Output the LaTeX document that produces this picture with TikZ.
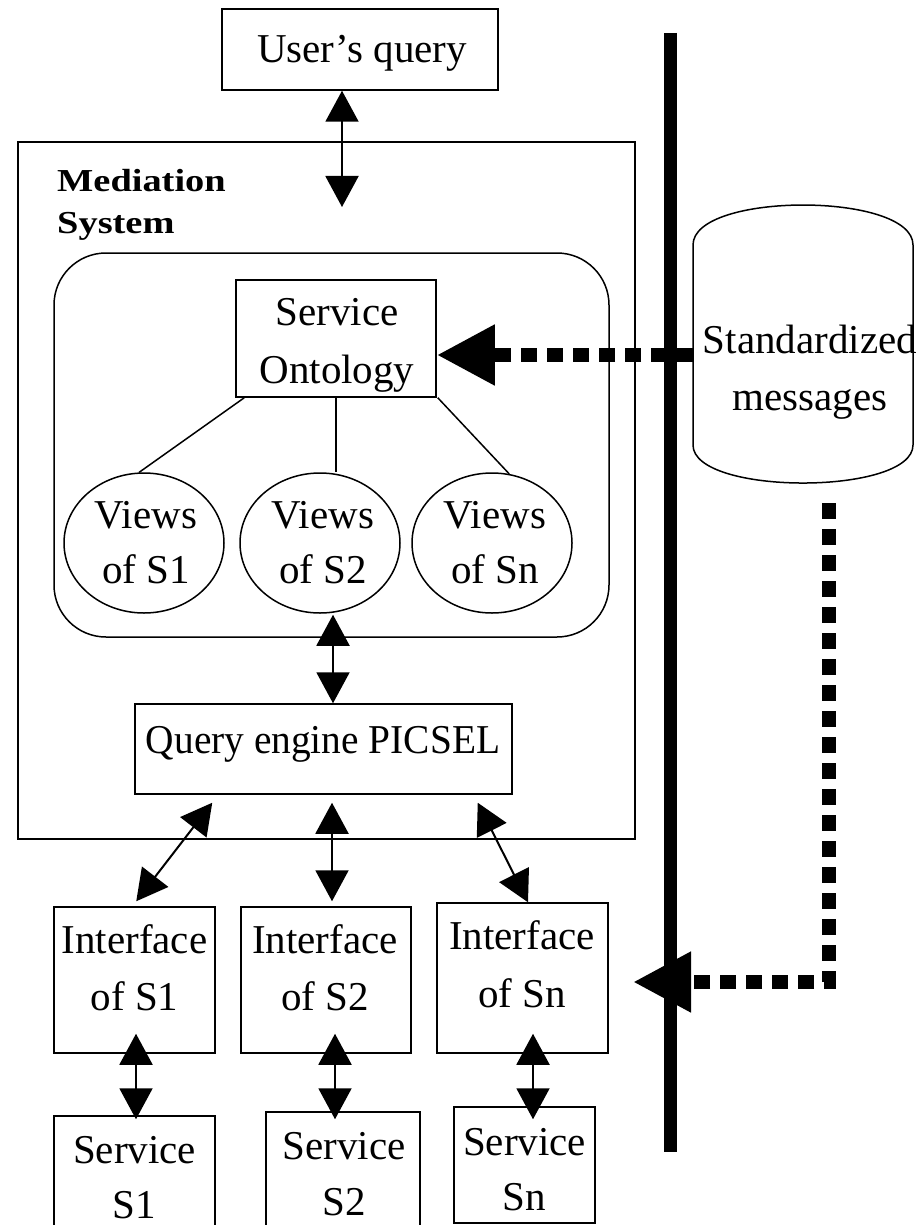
\documentclass[tikz,border=0pt]{standalone}
\usepackage{fontspec}
\setmainfont{Liberation Serif}
\usetikzlibrary{arrows.meta,calc,shapes.geometric}

\begin{document}
\begin{tikzpicture}[x=1pt,y=-1pt,
  box/.style={draw, line width=1.5pt, rectangle, inner sep=0pt},
  roundbox/.style={draw, line width=1.5pt, rectangle, rounded corners=52pt, inner sep=0pt},
  viewnode/.style={draw, line width=1.5pt, ellipse, inner sep=0pt,
    minimum width=160pt, minimum height=140pt},
  lbl/.style={anchor=base, inner sep=0pt, font=\fontsize{41}{57}\selectfont},
  headlbl/.style={anchor=base west, inner sep=0pt, font=\fontsize{32}{41}\selectfont\bfseries},
  tie/.style={line width=1.5pt},
  dbl/.style={line width=2pt,
    {Triangle[length=31pt,width=33pt]}-{Triangle[length=31pt,width=33pt]}},
  feed/.style={line width=14pt, dash pattern=on 16pt off 10pt, line join=miter,
    -{Triangle[length=58pt,width=57pt]}},
  bus/.style={line width=13pt}]

\clip (0,0) rectangle (923,1225);

% user query and mediation frame
\node[box, minimum width=276pt, minimum height=81pt] (uq) at (360,49.5) {};
\node[lbl] (uqt) at (362,63) {User’s query};
\node[box, minimum width=617pt, minimum height=697pt] (med) at (326.5,490.5) {};
\node[headlbl] (medt1) at (57,192) {\scalebox{1.2}[1]{Mediation}};
\node[headlbl] (medt2) at (57,233) {\scalebox{1.2}[1]{System}};

% ontology block with the service views
\node[roundbox, minimum width=555pt, minimum height=384pt] (onto) at (331.5,445) {};
\node[box, minimum width=200pt, minimum height=117pt] (so) at (336,338.5) {};
\node[lbl] (sot1) at (337,325) {Service};
\node[lbl] (sot2) at (337,383) {Ontology};

\node[viewnode] (v1) at (144,543) {};
\node[viewnode] (v2) at (320,543) {};
\node[viewnode] (v3) at (492,543) {};
\node[lbl] (v1t1) at (146,528) {Views};
\node[lbl] (v1t2) at (146,583) {of S1};
\node[lbl] (v2t1) at (323,528) {Views};
\node[lbl] (v2t2) at (323,583) {of S2};
\node[lbl] (v3t1) at (495,528) {Views};
\node[lbl] (v3t2) at (495,583) {of Sn};

\draw[tie] ($(so.south west)+(9,0)$) -- (v1.94);
\draw[tie] (so.south) -- (so.south |- v2.north);
\draw[tie] ($(so.south east)+(1,0)$) -- (v3.76);

% query engine
\node[box, minimum width=377pt, minimum height=90pt] (qe) at (323.5,749) {};
\node[lbl] (qet) at (323,753) {\scalebox{0.96}[1]{Query engine PICSEL}};

% interfaces
\node[box, minimum width=161pt, minimum height=146pt] (i1) at (134.5,980) {};
\node[box, minimum width=170pt, minimum height=146pt] (i2) at (326,980) {};
\node[box, minimum width=171pt, minimum height=150pt] (i3) at (522.5,978) {};
\node[lbl] (i1t1) at (134.5,953) {Interface};
\node[lbl] (i1t2) at (134.5,1010) {of S1};
\node[lbl] (i2t1) at (325,953) {Interface};
\node[lbl] (i2t2) at (325,1010) {of S2};
\node[lbl] (i3t1) at (522,949) {Interface};
\node[lbl] (i3t2) at (522,1007) {of Sn};

% services
\node[box, minimum width=161pt, minimum height=124pt] (s1) at (134.5,1178) {};
\node[box, minimum width=154pt, minimum height=128pt] (s2) at (343,1176) {};
\node[box, minimum width=141pt, minimum height=116pt] (sn) at (524.5,1165) {};
\node[lbl] (s1t1) at (134.5,1163) {Service};
\node[lbl] (s1t2) at (134.5,1218) {S1};
\node[lbl] (s2t1) at (344,1159) {Service};
\node[lbl] (s2t2) at (344,1215) {S2};
\node[lbl] (snt1) at (524.5,1155) {Service};
\node[lbl] (snt2) at (524.5,1210) {Sn};

% two-way exchanges
\coordinate (uqend) at (342,207);
\draw[dbl] (uq.south -| uqend) -- (uqend);
\draw[dbl] ($(v2.south)+(13,1)$) -- ($(qe.north)+(9.5,0)$);
\draw[dbl] ($(qe.south west)+(78,8)$) -- ($(i1.north west)+(83,-5)$);
\draw[dbl] ($(qe.south)+(8.5,8)$) -- ($(i2.north)+(6,-5)$);
\draw[dbl] ($(qe.south east)+(-35,8)$) -- ($(i3.north)+(5.5,0)$);
\draw[dbl] ($(i1.south)+(1.5,-20)$) -- ($(s1.north)+(1.5,4)$);
\draw[dbl] ($(i2.south)+(9,-20)$) -- ($(s2.north)+(-8,8)$);
\draw[dbl] ($(i3.south)+(10.5,-20)$) -- ($(sn.north)+(8.5,13)$);

% message repository
\draw[line width=1.5pt] (693,245) -- (693,445)
  .. controls (693,495.7) and (913,495.7) .. (913,445) -- (913,245)
  .. controls (913,191.7) and (693,191.7) .. (693,245) -- cycle;
\node[inner sep=0pt, minimum width=220pt, minimum height=278pt] (cyl) at (803,344) {};
\node[lbl] (cylt1) at (810,353) {Standardized};
\node[lbl] (cylt2) at (810,410) {messages};

% boundary bar
\coordinate (bus1) at (670.5,33);
\coordinate (bus2) at (670.5,1152);
\draw[bus] (bus1) -- (bus2);

% message feeds
\coordinate (f1s) at (693,355);
\draw[feed] (f1s) -- (so.east |- f1s);
\coordinate (f2s) at (829,503);
\coordinate (f2c) at (829,982);
\coordinate (f2e) at (633,982);
\draw[feed] (f2s) -- (f2c) -- (f2e);
\end{tikzpicture}
\end{document}
